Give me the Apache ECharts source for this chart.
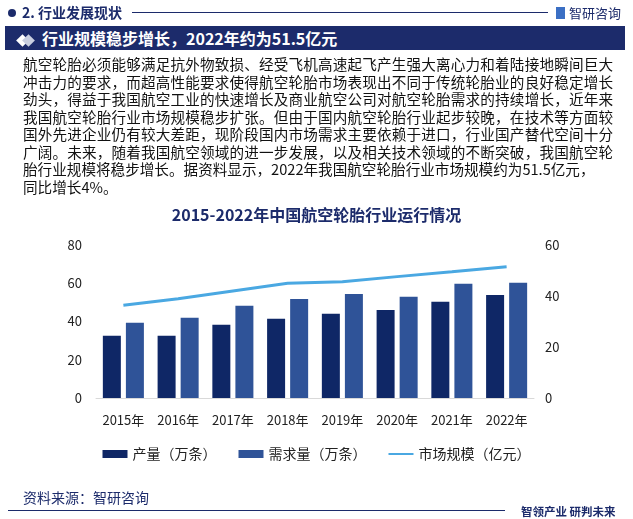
<!DOCTYPE html>
<html>
<head>
<meta charset="utf-8">
<script src="https://cdn.jsdelivr.net/npm/echarts@6/dist/echarts.min.js"></script>
<style>
  body { margin: 0; width: 633px; height: 519px; background: #fff; font-family: "Noto Sans CJK SC", sans-serif; position: relative; overflow: hidden; }
  #chart { position: absolute; left: 0; top: 0; width: 633px; height: 519px; }
  .abs { position: absolute; }
  #sec { left: 22px; top: 2px; font-size: 14px; font-weight: bold; color: #1c2b6b; }
  #dot { left: 8px; top: 9px; width: 8px; height: 8px; border-radius: 50%; background: #1c2b6b; }
  #hline { left: 132px; top: 12px; width: 416px; height: 1px; background: #1c2b6b; }
  #logo { left: 556px; top: 3px; font-size: 13px; color: #1c2b6b; }
  #logo i { display: inline-block; width: 9px; height: 12px; background: #3b6fc4; margin-right: 4px; vertical-align: -1px; }
  #banner { left: 5px; top: 26px; width: 620px; height: 24px; background: #1c2b6b; color: #fff; font-size: 16px; font-weight: bold; line-height: 24px; }
  #banner span.d { display: inline-block; width: 9px; height: 9px; background: #fff; transform: rotate(45deg); margin-left: 13px; }
  #banner span.d2 { display: inline-block; width: 9px; height: 9px; background: #c9cfe0; transform: rotate(45deg); margin-left: -3px; margin-right: 9px; }
  #para { left: 23px; top: 55px; width: 590px; font-size: 14.6px; line-height: 17.5px; color: #111; text-align: justify; }
  #src { left: 23px; top: 487px; font-size: 14px; color: #1c2b6b; }
  #fline { left: 8px; top: 510px; width: 497px; height: 1px; background: #1c2b6b; }
  #slogan { left: 521px; top: 503px; font-size: 11.5px; color: #1c2b6b; font-weight: bold; }
</style>
</head>
<body>
<div id="chart"></div>
<div class="abs" id="dot"></div>
<div class="abs" id="sec">2. 行业发展现状</div>
<div class="abs" id="hline"></div>
<div class="abs" id="logo"><i></i>智研咨询</div>
<div class="abs" id="banner"><span class="d"></span><span class="d2"></span>行业规模稳步增长，2022年约为51.5亿元</div>
<div class="abs" id="para">航空轮胎必须能够满足抗外物致损、经受飞机高速起飞产生强大离心力和着陆接地瞬间巨大冲击力的要求，而超高性能要求使得航空轮胎市场表现出不同于传统轮胎业的良好稳定增长劲头，得益于我国航空工业的快速增长及商业航空公司对航空轮胎需求的持续增长，近年来我国航空轮胎行业市场规模稳步扩张。但由于国内航空轮胎行业起步较晚，在技术等方面较国外先进企业仍有较大差距，现阶段国内市场需求主要依赖于进口，行业国产替代空间十分广阔。未来，随着我国航空领域的进一步发展，以及相关技术领域的不断突破，我国航空轮胎行业规模将稳步增长。据资料显示，2022年我国航空轮胎行业市场规模约为51.5亿元，<br>同比增长4%。</div>
<div class="abs" id="src">资料来源：智研咨询</div>
<div class="abs" id="fline"></div>
<div class="abs" id="slogan">智领产业 研判未来</div>
<script>
var years = ['2015年', '2016年', '2017年', '2018年', '2019年', '2020年', '2021年', '2022年'];
var output = [32.5, 32.5, 38.3, 41.4, 44.0, 46.0, 50.3, 53.9];
var demand = [39.3, 41.9, 48.2, 51.8, 54.4, 52.9, 59.7, 60.2];
var market = [36.4, 38.9, 42.0, 45.0, 45.6, 47.6, 49.5, 51.5];

var myChart = echarts.init(document.getElementById('chart'));
var font = 'Noto Sans CJK SC';
// 细线图标：两个零面积子路径把包围盒撑到 25x8
var lineIcon = 'path://M0,0 L0.01,0 Z M0,8 L0.01,8 Z M0,3 L25,3 L25,5 L0,5 Z';
var option = {
    textStyle: { fontFamily: font },
    title: {
        text: '2015-2022年中国航空轮胎行业运行情况',
        left: 'center',
        top: 202,
        textStyle: { color: '#1c2b6b', fontSize: 16, fontWeight: 'bold', fontFamily: font }
    },
    legend: {
        top: 442,
        left: 'center',
        itemGap: 22,
        itemWidth: 25,
        itemHeight: 8,
        textStyle: { color: '#222', fontSize: 14, fontFamily: font },
        data: [
            { name: '产量（万条）', icon: 'rect' },
            { name: '需求量（万条）', icon: 'rect' },
            { name: '市场规模（亿元）', icon: lineIcon }
        ]
    },
    grid: { left: 96, right: 99, top: 245, bottom: 121 },
    xAxis: {
        type: 'category',
        data: years,
        axisTick: { show: false },
        axisLine: { lineStyle: { color: '#d9d9d9' } },
        axisLabel: { color: '#222', fontSize: 13, margin: 16, fontFamily: font }
    },
    yAxis: [{
        type: 'value', min: 0, max: 80, interval: 20,
        splitLine: { show: false },
        axisLabel: { color: '#222', fontSize: 13, margin: 14, fontFamily: font }
    }, {
        type: 'value', min: 0, max: 60, interval: 20,
        splitLine: { show: false },
        axisLabel: { color: '#222', fontSize: 13, margin: 11, fontFamily: font }
    }],
    series: [{
        name: '产量（万条）',
        type: 'bar',
        data: output,
        barWidth: 18,
        barGap: '28%',
        itemStyle: { color: '#0f2766' }
    }, {
        name: '需求量（万条）',
        type: 'bar',
        data: demand,
        barWidth: 18,
        itemStyle: { color: '#2f5398' }
    }, {
        name: '市场规模（亿元）',
        type: 'line',
        yAxisIndex: 1,
        data: market,
        symbol: 'none',
        lineStyle: { color: '#4aa8e2', width: 3 },
        itemStyle: { color: '#4aa8e2' }
    }]
};
myChart.setOption(option);
</script>
</body>
</html>
